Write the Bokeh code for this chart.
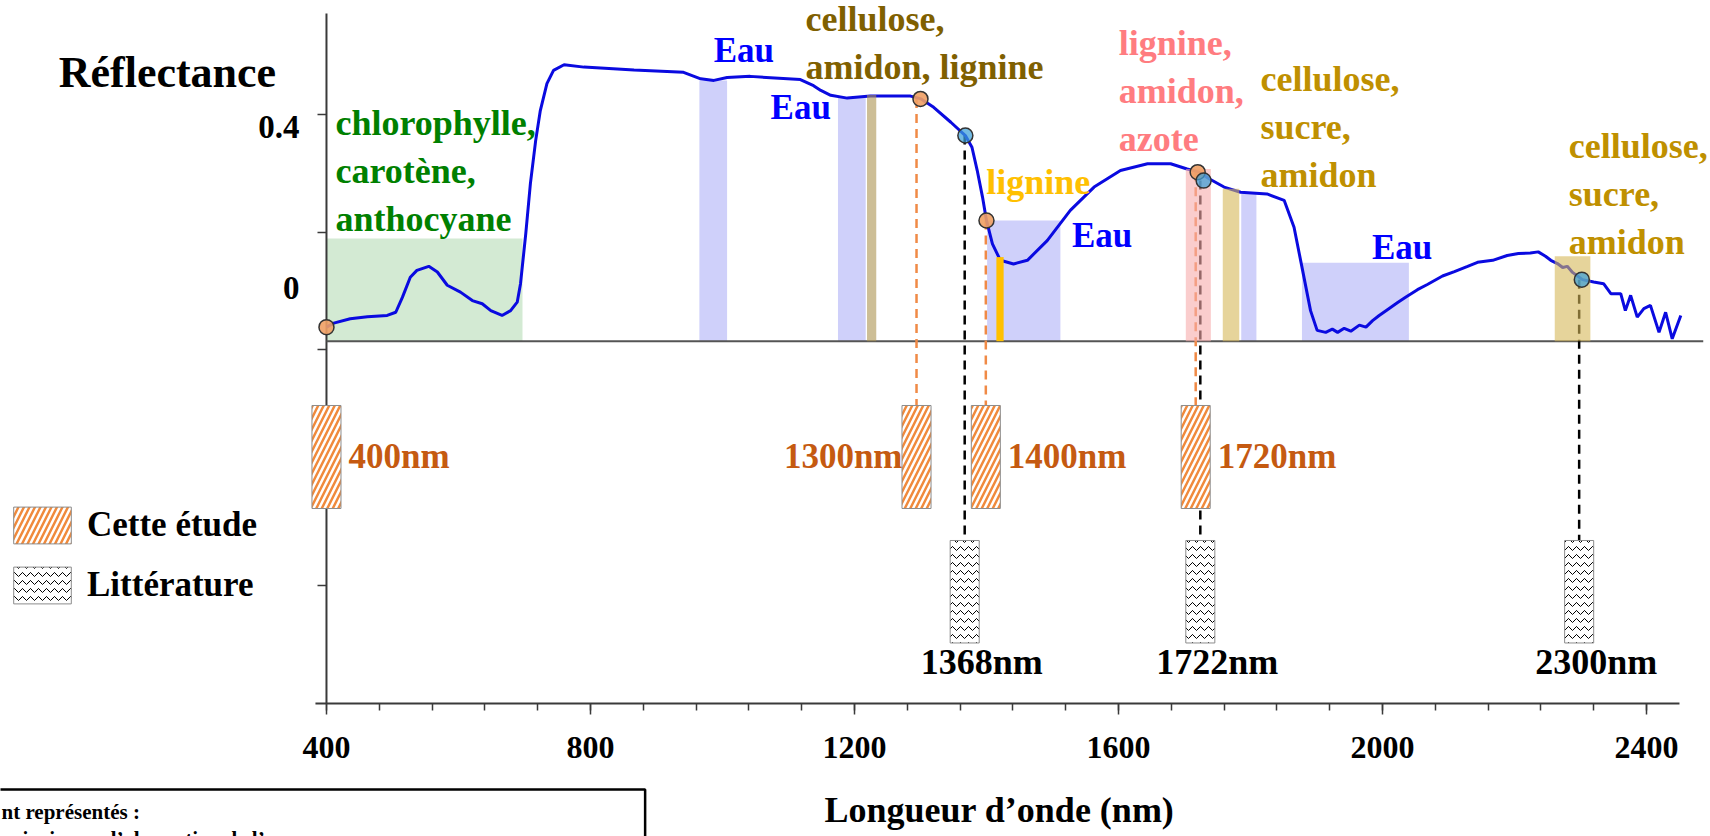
from bokeh.plotting import figure
from bokeh.models import (ColumnDataSource, FixedTicker, Label, LabelSet, Legend,
                          LegendItem, Range1d)
from bokeh.embed import file_html
from bokeh.resources import INLINE
from bokeh.core.properties import value

# ---------------- data ----------------
wavelength_nm = [400, 411, 436, 462, 492, 505, 515, 527, 537, 555, 568, 583, 603, 621, 636,
                 649, 666, 679, 689, 694, 702, 709, 717, 724, 734, 744, 760, 790, 866, 941,
                 967, 987, 1007, 1042, 1118, 1138, 1149, 1164, 1189, 1224, 1285, 1301, 1320,
                 1346, 1368, 1378, 1386, 1394, 1400, 1409, 1421, 1441, 1462, 1492, 1527, 1563,
                 1603, 1644, 1679, 1704, 1722, 1738, 1760, 1785, 1825, 1851, 1866, 1878, 1891,
                 1901, 1914, 1924, 1932, 1942, 1952, 1965, 1975, 1985, 1995, 2008, 2023, 2035,
                 2053, 2068, 2091, 2109, 2129, 2144, 2167, 2189, 2206, 2224, 2236, 2247, 2255,
                 2265, 2273, 2280, 2288, 2303, 2320, 2335, 2346, 2361, 2368, 2376, 2386, 2396,
                 2406, 2419, 2429, 2439, 2452]
reflectance = [-0.096, -0.086, -0.075, -0.070, -0.067, -0.059, -0.022, 0.028, 0.045, 0.055,
               0.041, 0.008, -0.009, -0.030, -0.038, -0.055, -0.067, -0.055, -0.034, 0.012,
               0.137, 0.261, 0.368, 0.442, 0.509, 0.542, 0.556, 0.550, 0.543, 0.537, 0.521,
               0.517, 0.524, 0.527, 0.519, 0.504, 0.492, 0.480, 0.473, 0.478, 0.478, 0.471,
               0.450, 0.413, 0.380, 0.351, 0.293, 0.227, 0.169, 0.111, 0.070, 0.061, 0.070,
               0.119, 0.194, 0.252, 0.293, 0.310, 0.310, 0.297, 0.289, 0.272, 0.252, 0.239,
               0.235, 0.219, 0.152, 0.053, -0.055, -0.104, -0.109, -0.101, -0.109, -0.099,
               -0.106, -0.091, -0.096, -0.080, -0.067, -0.052, -0.035, -0.022, -0.003, 0.010,
               0.031, 0.042, 0.055, 0.065, 0.070, 0.082, 0.087, 0.088, 0.091, 0.080, 0.070,
               0.062, 0.052, 0.055, 0.040, 0.022, 0.016, 0.012, -0.013, -0.013, -0.055, -0.017,
               -0.071, -0.050, -0.042, -0.109, -0.059, -0.125, -0.067]

baseline_reflectance = -0.131

# absorption bands : start, end, top
pigment_band = [400, 697, 0.124]
water_start = [965, 1175, 1401, 1786, 1878]
water_end = [1007, 1217, 1512, 1809, 2040]
water_top = [0.517, 0.473, 0.169, 0.235, 0.064]

component_start = [1219, 1415, 1702, 1758, 2261]
component_end = [1233, 1426, 1740, 1783, 2315]
component_top = [0.481, 0.078, 0.297, 0.248, 0.080]

# wavelengths of this study / of literature
study_nm = [400, 1300, 1400, 1720]
study_mark_nm = [400, 1294, 1399, 1717]
study_reflectance = [-0.096, 0.471, 0.169, 0.289]
study_labels = ["400nm", "1300nm", "1400nm", "1720nm"]

lit_nm = [1368, 1722, 2300]
lit_point_nm = [1368, 1729, 2302]
lit_mark_nm = [1367, 1724, 2298]
lit_reflectance = [0.380, 0.268, 0.022]
lit_labels = ["1368nm", "1722nm", "2300nm"]

# texts of the compounds
compound_text = ["chlorophylle,\ncarotène,\nanthocyane", "cellulose,\namidon, lignine",
                 "lignine", "lignine,\namidon,\nazote", "cellulose,\nsucre,\namidon",
                 "cellulose,\nsucre,\namidon"]
compound_x = [413.6, 1125.8, 1399.5, 1600.5, 1815.2, 2282.3]
compound_y = [0.293, 0.610, 0.264, 0.490, 0.401, 0.235]
water_label_x = [1032.3, 1118.5, 1575.3, 2029.8]
water_label_y = [0.591, 0.450, 0.132, 0.103]

x_major = [400, 800, 1200, 1600, 2000, 2400]
x_minor = list(range(400, 2401, 80))
y_labelled = [0.4, 0.0]
y_tick_marks = [0.4323, 0.1391, -0.1516, -0.4447, -0.7379]

caption_text = "nt représentés :\nprincipaux d’absorption de l’eau"

# ---------------- styles / layout ----------------
SERIF = "Liberation Serif"
AXIS_COLOR = "#3a3a3a"
compound_colors = ["#008000", "#7f6000", "#ffc000", "#ff7c80", "#bf9000", "#bf9000"]
component_colors = ["#ac9350", "#ffc000", "#f7acac", "#d5b758", "#d5b758"]
component_alpha = [0.6, 1.0, 0.6, 0.6, 0.6]
BOX_HALF = 22
STUDY_TOP, STUDY_BOTTOM = -0.2907, -0.5466
LIT_TOP, LIT_BOTTOM = -0.6261, -0.8807
X_AXIS_Y = -1.0311          # where the wavelength axis sits
Y_AXIS_X = 400              # where the reflectance axis sits
Y_AXIS_TOP = 0.6832
X_AXIS_START, X_AXIS_END = 383.3, 2450

p = figure(width=1710, height=836, output_backend="svg", toolbar_location=None,
           x_range=Range1d(-93.9, 2497.0), y_range=Range1d(-1.3615, 0.7155),
           min_border=0, min_border_left=0, min_border_right=0, min_border_top=0,
           min_border_bottom=0, title=None)
p.grid.visible = False
p.outline_line_color = None

# bands under the curve
p.quad(left=[pigment_band[0]], right=[pigment_band[1]], top=[pigment_band[2]],
       bottom=[baseline_reflectance], fill_color="#d3ead3", line_color=None)
p.quad(left=water_start, right=water_end, top=water_top,
       bottom=[baseline_reflectance] * len(water_start), fill_color="#cfd0fa", line_color=None)

# axis lines
p.segment(x0=[X_AXIS_START], y0=[X_AXIS_Y], x1=[X_AXIS_END], y1=[X_AXIS_Y],
          line_color=AXIS_COLOR, line_width=2)
p.segment(x0=[Y_AXIS_X], y0=[X_AXIS_Y], x1=[Y_AXIS_X], y1=[Y_AXIS_TOP],
          line_color=AXIS_COLOR, line_width=2)

# baseline
p.segment(x0=[400], y0=[baseline_reflectance], x1=[2486], y1=[baseline_reflectance],
          line_color="#555555", line_width=2)

# dashed guides
p.segment(x0=study_mark_nm[1:], y0=study_reflectance[1:], x1=study_mark_nm[1:],
          y1=[STUDY_TOP] * (len(study_nm) - 1), line_color="#f08a46", line_width=2.5,
          line_dash="9 6")
p.segment(x0=lit_mark_nm, y0=lit_reflectance, x1=lit_mark_nm, y1=[LIT_TOP] * len(lit_nm),
          line_color="black", line_width=2.5, line_dash="9 6")

# spectrum
p.line(wavelength_nm, reflectance, line_color="#0a0ae0", line_width=3)

# component bands (overlaid on the curve)
p.quad(left=component_start, right=component_end, top=component_top,
       bottom=[baseline_reflectance] * len(component_start), fill_color=component_colors,
       fill_alpha=component_alpha, line_color=None)

# points
p.scatter(study_nm, study_reflectance, size=15, fill_color="#f0a064", fill_alpha=0.9,
          line_color="#333333", line_width=1.5)
p.scatter(lit_point_nm, lit_reflectance, size=15, fill_color="#3c9fd8", fill_alpha=0.72,
          line_color="#333333", line_width=1.5)

# hatched boxes
r_study = p.quad(left=[x - BOX_HALF for x in study_mark_nm],
                 right=[x + BOX_HALF for x in study_mark_nm],
                 top=[STUDY_TOP] * len(study_nm), bottom=[STUDY_BOTTOM] * len(study_nm),
                 fill_color="white", line_color="#8c8c8c", line_width=1,
                 hatch_pattern="/", hatch_color="#f08a3c", hatch_weight=2.5, hatch_scale=11)
r_study.level = "annotation"
r_lit = p.quad(left=[x - BOX_HALF for x in lit_mark_nm],
               right=[x + BOX_HALF for x in lit_mark_nm],
               top=[LIT_TOP] * len(lit_nm), bottom=[LIT_BOTTOM] * len(lit_nm),
               fill_color="white", line_color="#8c8c8c", line_width=1,
               hatch_pattern="v", hatch_color="black", hatch_weight=1, hatch_scale=8)
r_lit.level = "annotation"

# labels of boxes
study_src = ColumnDataSource(dict(
    x=study_mark_nm, y=[(STUDY_TOP + STUDY_BOTTOM) / 2] * len(study_nm), text=study_labels,
    align=["right" if n == 1300 else "left" for n in study_nm],
    dx=[-14 if n == 1300 else 22 for n in study_nm]))
p.text(x="x", y="y", text="text", source=study_src, text_align="align", x_offset="dx",
       text_baseline="middle", text_font=value(SERIF), text_font_style="bold",
       text_font_size="35px", text_color="#c55a11")
lit_src = ColumnDataSource(dict(x=lit_mark_nm, y=[-0.9292] * len(lit_nm), text=lit_labels))
p.text(x="x", y="y", text="text", source=lit_src, text_align="center", x_offset=17,
       text_baseline="middle", text_font=value(SERIF), text_font_style="bold",
       text_font_size="36px", text_color="black")

# compound texts
comp_src = ColumnDataSource(dict(x=compound_x, y=compound_y, text=compound_text,
                                 color=compound_colors))
p.add_layout(LabelSet(x="x", y="y", text="text", source=comp_src, text_color="color",
                      text_align="left", text_baseline="middle", text_font=SERIF,
                      text_font_style="bold", text_font_size="36px", text_line_height=1.2))
eau_src = ColumnDataSource(dict(x=water_label_x, y=water_label_y,
                                text=["Eau"] * len(water_label_x)))
p.add_layout(LabelSet(x="x", y="y", text="text", source=eau_src, text_color="#0000ff",
                      text_align="center", text_baseline="middle", text_font=SERIF,
                      text_font_style="bold", text_font_size="35px"))

# axes (placed at fixed data positions; their lines are drawn above)
xa = p.xaxis[0]
xa.fixed_location = X_AXIS_Y
xa.ticker = FixedTicker(ticks=x_major, minor_ticks=x_minor)
xa.axis_line_color = None
xa.major_tick_line_color = AXIS_COLOR
xa.major_tick_line_width = 1.5
xa.major_tick_out = 11
xa.major_tick_in = 0
xa.minor_tick_line_color = AXIS_COLOR
xa.minor_tick_line_width = 1.5
xa.minor_tick_out = 7
xa.minor_tick_in = 0
xa.major_label_text_font = SERIF
xa.major_label_text_font_style = "bold"
xa.major_label_text_font_size = "32px"
xa.major_label_text_color = "black"
xa.major_label_standoff = 22

ya = p.yaxis[0]
ya.fixed_location = Y_AXIS_X
ya.ticker = FixedTicker(ticks=y_labelled, minor_ticks=y_tick_marks)
ya.major_label_overrides = {0.4: "0.4", 0: "0"}
ya.axis_line_color = None
ya.major_tick_out = 0
ya.major_tick_in = 0
ya.minor_tick_line_color = AXIS_COLOR
ya.minor_tick_line_width = 1.5
ya.minor_tick_out = 9
ya.minor_tick_in = 0
ya.major_label_text_font = SERIF
ya.major_label_text_font_style = "bold"
ya.major_label_text_font_size = "33px"
ya.major_label_text_color = "black"
ya.major_label_standoff = 18

# axis titles
p.add_layout(Label(x=159, y=0.537, text="Réflectance", text_align="center",
                   text_baseline="middle", text_font=SERIF, text_font_style="bold",
                   text_font_size="44px", text_color="black"))
p.add_layout(Label(x=1419.7, y=-1.2969, text="Longueur d’onde (nm)", text_align="center",
                   text_baseline="middle", text_font=SERIF, text_font_style="bold",
                   text_font_size="36px", text_color="black"))

# legend
legend = Legend(items=[LegendItem(label="Cette étude", renderers=[r_study]),
                       LegendItem(label="Littérature", renderers=[r_lit])],
                location=(6, 228), orientation="vertical", glyph_width=72,
                glyph_height=46, spacing=14, label_standoff=9, padding=0, margin=0,
                border_line_color=None, background_fill_alpha=0, label_height=46,
                label_text_font=SERIF, label_text_font_style="bold",
                label_text_font_size="35px", label_text_baseline="middle",
                label_text_color="black")
p.add_layout(legend, "center")

# partially visible caption box
cap = Label(x=-122.7, y=-1.2447, text=caption_text, text_align="left",
            text_baseline="top", text_font=SERIF, text_font_style="bold",
            text_font_size="21px", text_line_height=1.1, text_color="black",
            border_line_color="black", border_line_width=2.5)
try:
    cap.padding = dict(left=20, right=349, top=11, bottom=40)
except Exception:
    cap.padding = (11, 349, 40, 20)
p.add_layout(cap)

open("out.html", "w").write(file_html(p, INLINE))
